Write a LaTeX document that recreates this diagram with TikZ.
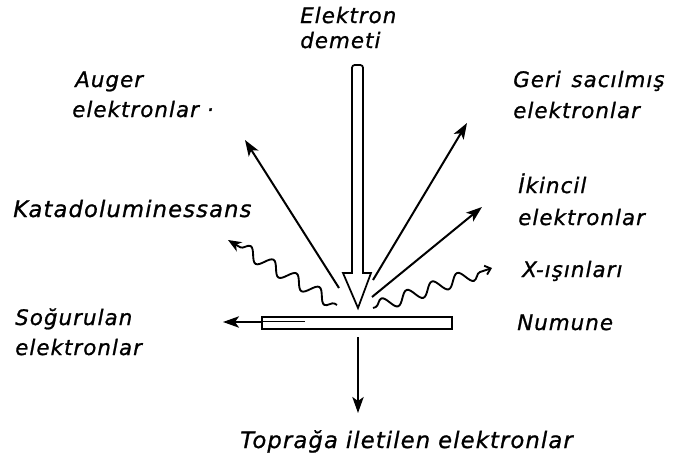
\documentclass[tikz,border=0pt]{standalone}
\usepackage{fontspec}
\setmainfont{DejaVu Sans}[LetterSpace=5, ItalicFeatures={FakeBold=1.0}]
\usetikzlibrary{arrows.meta,decorations.pathmorphing}
\tikzset{
  lbl/.style={anchor=base west, inner sep=0pt, font=\fontsize{16}{19}\selectfont\itshape},
  biglbl/.style={lbl, font=\fontsize{17}{20}\selectfont\itshape},
  arr/.style={line width=1.5pt, -{Stealth[length=12pt,width=8.5pt,inset=3pt]}},
  wavy/.style={line width=1.4pt, decorate, decoration={snake, amplitude=4.8pt, segment length=20pt, post length=7pt, pre length=2pt}},
}
\begin{document}
\begin{tikzpicture}[x=0.75pt,y=-0.75pt]
\useasboundingbox (0,0) rectangle (679,464);
% labels
\node[lbl] (el1) at (300,23) {Elektron};
\node[lbl] (el2) at (300,48) {demeti};
\node[lbl] (au1) at (75,87) {Auger};
\node[lbl] (au2) at (72,117) {elektronlar ·};
\node[biglbl] (kat) at (13,217) {Katadoluminessans};
\node[lbl] (ge1) at (513,87) {Geri\hspace{8pt}sacılmış};
\node[lbl] (ge2) at (513,118) {elektronlar};
\node[lbl] (ik1) at (518,193) {İkincil};
\node[lbl] (ik2) at (518,225) {elektronlar};
\node[lbl] (xr) at (522,277) {X-ışınları};
\node[lbl] (num) at (517,330) {Numune};
\node[lbl] (so1) at (15,325) {Soğurulan};
\node[lbl] (so2) at (15,355) {elektronlar};
\node[biglbl] (top) at (240,448) {Toprağa\hspace{6pt}iletilen\hspace{6pt}elektronlar};
% beam (hollow arrow)
\coordinate (tip) at (358,308);
\draw[line width=1.3pt, line join=miter]
  (352,273) [rounded corners=2pt] -- (352,65) -- (363,65) [sharp corners] -- (363,273)
  -- (371,273) -- (tip) -- (343,273) -- cycle;
% sample
\node[draw, line width=1.3pt, minimum width=142.5pt, minimum height=9pt, inner sep=0pt] (sample) at (357,323) {};
\coordinate (inA) at (263,321.5);
\coordinate (inB) at (305,321.5);
\draw[line width=0.9pt] (inA) -- (inB);
% absorbed
\coordinate (absE) at (223,322);
\draw[arr] (sample.west |- absE) -- (absE);
% transmitted to ground
\coordinate (dnS) at (358,337);
\coordinate (dnE) at (358,413);
\draw[arr] (dnS) -- (dnE);
% emitted electrons
\coordinate (augS) at (339,288);
\coordinate (augE) at (245,140);
\draw[arr] (augS) -- (augE);
\coordinate (bsS) at (373,280);
\coordinate (bsE) at (467,123);
\draw[arr] (bsS) -- (bsE);
\coordinate (seS) at (372,297);
\coordinate (seE) at (482,207);
\draw[arr] (seS) -- (seE);
% wavy
\coordinate (kS) at (337,305);
\coordinate (kE) at (228,240);
\draw[wavy, -{Stealth[length=10pt,width=8pt,inset=3pt]}] (kS) -- (kE);
\coordinate (xS) at (373,308);
\coordinate (xE) at (492,268);
\draw[wavy, -{Straight Barb[length=4pt,width=7pt]}] (xS) -- (xE);
\end{tikzpicture}
\end{document}
